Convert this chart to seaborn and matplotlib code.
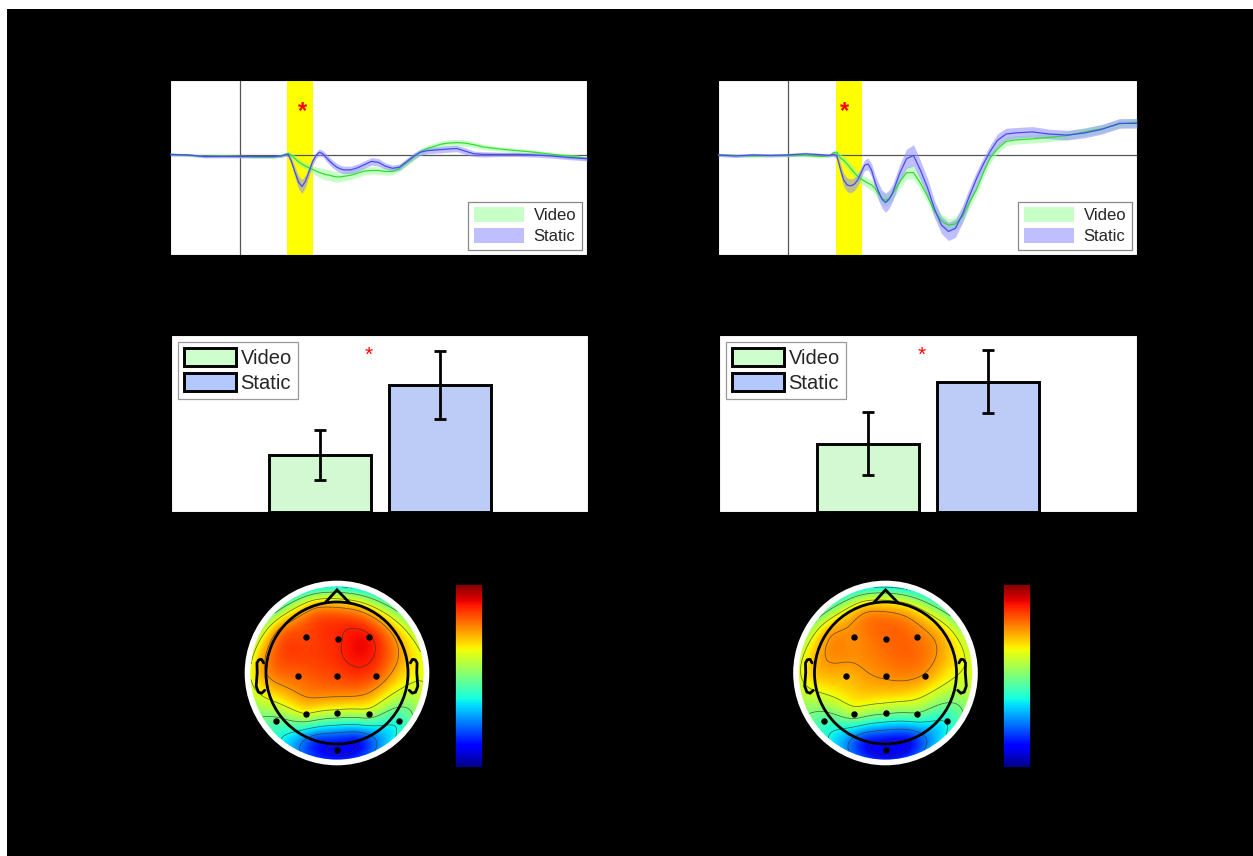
import numpy as np
import pandas as pd
import matplotlib
matplotlib.use("Agg")
import matplotlib.pyplot as plt
from matplotlib.patches import Patch, Circle, Rectangle, Polygon
import seaborn as sns

# ---------------- data ----------------
conditions = ["Video", "Static"]

# ERP time axis (ms)
times = [-200, -150, -100, -50, 0, 50, 100, 120,
         130, 140, 150, 160, 170, 180, 190, 200, 210, 220, 230, 240, 250, 260, 270, 280, 290, 300,
         320, 340, 360, 380, 400, 420, 440, 460, 480, 500, 520, 540, 560, 580, 600,
         625, 650, 675, 700, 750, 800, 850, 900, 950, 1000]

# left site: grand-average amplitude (uV) and SEM
left_static = [0.1, 0.05, -0.1, -0.1, -0.1, -0.1, -0.1, -0.05,
               0.05, 0.1, -0.6, -1.6, -2.5, -2.9, -2.4, -1.5, -0.6, 0.0, 0.3, 0.15, -0.2, -0.55, -0.85, -1.1, -1.25, -1.35,
               -1.35, -1.15, -0.85, -0.55, -0.65, -1.0, -1.2, -1.1, -0.6, -0.1, 0.3, 0.45, 0.5, 0.55, 0.6,
               0.65, 0.4, 0.15, 0.1, 0.1, 0.1, 0.05, -0.05, -0.2, -0.3]
left_video = [0.1, 0.05, -0.1, -0.05, -0.1, -0.15, -0.15, -0.05,
              0.1, 0.2, 0.0, -0.3, -0.6, -0.8, -1.0, -1.15, -1.3, -1.45, -1.6, -1.7, -1.8, -1.85, -1.95, -2.0, -2.0, -1.95,
              -1.85, -1.65, -1.45, -1.4, -1.4, -1.5, -1.5, -1.2, -0.7, -0.2, 0.3, 0.65, 0.85, 1.05, 1.15,
              1.2, 1.15, 1.0, 0.8, 0.6, 0.45, 0.3, 0.1, -0.05, -0.3]
left_static_sem = [0.12] * 8 + [0.15, 0.2, 0.35, 0.5, 0.6, 0.65, 0.55, 0.45, 0.35, 0.3, 0.3, 0.3, 0.35, 0.35, 0.35, 0.35, 0.35, 0.35,
                                0.35, 0.35, 0.35, 0.35, 0.35, 0.3, 0.3, 0.3, 0.3, 0.3, 0.3, 0.3, 0.3, 0.3, 0.3,
                                0.3, 0.3, 0.25, 0.25, 0.2, 0.2, 0.2, 0.2, 0.2, 0.2]
left_video_sem = [0.12] * 8 + [0.15, 0.2, 0.25, 0.3, 0.3, 0.3, 0.3, 0.35, 0.35, 0.4, 0.45, 0.5, 0.5, 0.5, 0.5, 0.5, 0.45, 0.45,
                               0.4, 0.4, 0.35, 0.35, 0.35, 0.35, 0.3, 0.3, 0.3, 0.3, 0.3, 0.3, 0.3, 0.3, 0.3,
                               0.3, 0.3, 0.25, 0.25, 0.2, 0.2, 0.2, 0.2, 0.2, 0.2]

# right site
right_static = [0.05, -0.05, 0.05, 0.0, 0.05, 0.15, 0.05, 0.0,
                0.1, 0.0, -1.2, -2.3, -2.75, -2.85, -2.7, -2.3, -1.6, -0.9, -0.8, -1.4, -2.5, -3.4, -4.1, -4.4, -4.1, -3.5,
                -1.7, -0.3, 0.0, -1.4, -3.0, -5.0, -6.5, -7.1, -6.8, -5.5, -3.8, -2.2, -0.8, 0.4, 1.4,
                2.0, 2.1, 2.15, 2.2, 2.0, 1.9, 2.1, 2.45, 3.0, 3.0]
right_video = [0.05, 0.0, -0.05, 0.0, 0.0, 0.0, -0.1, 0.0,
               0.25, 0.3, -0.2, -0.45, -0.8, -1.2, -1.6, -1.95, -2.2, -2.4, -2.6, -2.75, -3.1, -3.6, -4.0, -4.2, -4.0, -3.6,
               -2.5, -1.6, -1.6, -2.6, -3.8, -5.2, -6.1, -6.5, -6.4, -5.7, -4.4, -3.2, -1.6, -0.2, 0.6,
               1.3, 1.45, 1.5, 1.55, 1.7, 1.85, 2.2, 2.5, 2.95, 3.1]
right_static_sem = [0.15] * 8 + [0.2, 0.3, 0.5, 0.6, 0.65, 0.65, 0.6, 0.55, 0.5, 0.5, 0.55, 0.6, 0.7, 0.8, 0.85, 0.9, 0.85, 0.8,
                                 0.8, 0.9, 1.0, 0.9, 0.85, 0.8, 0.8, 0.85, 0.85, 0.8, 0.75, 0.7, 0.6, 0.6, 0.6,
                                 0.55, 0.5, 0.5, 0.5, 0.45, 0.45, 0.45, 0.45, 0.45, 0.45]
right_video_sem = [0.12] * 8 + [0.2, 0.25, 0.35, 0.4, 0.45, 0.45, 0.45, 0.45, 0.45, 0.45, 0.45, 0.5, 0.5, 0.55, 0.55, 0.55, 0.55, 0.55,
                                0.6, 0.6, 0.6, 0.6, 0.6, 0.6, 0.6, 0.6, 0.6, 0.6, 0.55, 0.5, 0.5, 0.45, 0.45,
                                0.4, 0.4, 0.4, 0.4, 0.4, 0.4, 0.4, 0.4, 0.4, 0.4]

# significant window (ms)
sig_window = [138, 212]

# mean amplitude in the window
left_bar_mean = [1.29, 2.87]
left_bar_err = [0.565, 0.77]
right_bar_mean = [1.54, 2.94]
right_bar_err = [0.71, 0.71]

# scalp topography: electrode labels, positions (unit head radius), values (uV)
electrodes = ["F3", "Fz", "F4", "C3", "Cz", "C4", "P3", "Pz", "P4", "P7", "P8", "Oz",
              "Fp1", "Fp2", "F7", "F8", "T7", "T8", "O1", "O2"]
elec_x = [-0.44, 0.01, 0.45, -0.55, 0.0, 0.55, -0.44, 0.0, 0.45, -0.86, 0.87, 0.0,
          -0.31, 0.31, -0.81, 0.81, -1.0, 1.0, -0.31, 0.31]
elec_y = [0.51, 0.48, 0.51, -0.04, -0.04, -0.04, -0.58, -0.56, -0.58, -0.68, -0.68, -1.08,
          0.95, 0.95, 0.59, 0.59, 0.0, 0.0, -0.95, -0.95]
marked_count = 12  # electrodes of interest shown as dots
left_topo = [2.0, 2.2, 2.3, 1.8, 2.0, 1.9, 0.7, 0.5, 0.35, -0.2, -0.6, -2.3,
             1.3, 1.1, 1.6, 1.3, 1.5, 1.0, -1.9, -2.1]
right_topo = [1.55, 1.8, 1.7, 1.3, 1.55, 1.45, 0.35, 0.1, -0.1, -0.4, -0.7, -2.4,
              1.1, 0.9, 1.3, 1.1, 1.2, 0.8, -2.0, -2.2]
topo_clim = [-3, 3]

# ---------------- style ----------------
sns.set_theme(style="white")
plt.rcParams["font.family"] = ["Liberation Sans", "DejaVu Sans"]

W, H = 1253, 856
fig = plt.figure(figsize=(W / 100, H / 100), dpi=100, facecolor="white")
fig.patches.append(Rectangle((7 / W, 0), 1 - 7 / W, (H - 9) / H, transform=fig.transFigure,
                             facecolor="black", edgecolor="none", zorder=-10))


def px_axes(x0, y0, x1, y1):
    return fig.add_axes([x0 / W, 1 - y1 / H, (x1 - x0) / W, (y1 - y0) / H])


green_line = "#33dd33"
blue_line = "#4a4af0"
green_fill = (0.6, 1.0, 0.6)
blue_fill = (0.55, 0.55, 1.0)
bar_colors = ["#ccffcc", "#b3c8ff"]


def erp_panel(ax, video, video_sem, static, static_sem, star_t):
    t = np.asarray(times, float)
    ax.set_facecolor("white")
    ax.axvspan(sig_window[0], sig_window[1], color="#ffff00", lw=0, zorder=0)
    ax.axhline(0, color="#555555", lw=0.9, zorder=1)
    ax.axvline(0, color="#555555", lw=0.9, zorder=1)
    v, vs = np.asarray(video), np.asarray(video_sem)
    s, ss = np.asarray(static), np.asarray(static_sem)
    ax.fill_between(t, v - vs, v + vs, color=green_fill, alpha=0.55, lw=0, zorder=2)
    ax.fill_between(t, s - ss, s + ss, color=blue_fill, alpha=0.55, lw=0, zorder=3)
    sns.lineplot(x=t, y=v, ax=ax, color=green_line, lw=0.9, zorder=4)
    sns.lineplot(x=t, y=s, ax=ax, color=blue_line, lw=0.9, zorder=5)
    ax.text(star_t, 4.1, "*", color="red", fontsize=17, ha="center", va="center",
            fontweight="bold", zorder=6)
    ax.set_xlim(-200, 1000)
    ax.set_ylim(-9.3, 7.05)
    ax.set_xticks(range(-200, 1001, 200))
    ax.set_yticks([-5, 0, 5])
    ax.tick_params(direction="in", length=4, width=0.8, color="#333333", labelsize=11, labelcolor="black")
    for sp in ax.spines.values():
        sp.set_color("black")
        sp.set_linewidth(0.8)
    handles = [Patch(facecolor=green_fill, alpha=0.55, edgecolor="none", label="Video"),
               Patch(facecolor=blue_fill, alpha=0.55, edgecolor="none", label="Static")]
    leg = ax.legend(handles=handles, loc="lower right", fontsize=12, frameon=True, fancybox=False,
                    framealpha=1, edgecolor="#888888", handlelength=3.0, handleheight=0.95,
                    labelspacing=0.3, handletextpad=0.6, borderpad=0.35, borderaxespad=0.3)
    leg.get_frame().set_linewidth(0.9)


def bar_panel(ax, means, errs, star_x):
    df = pd.DataFrame({"condition": conditions, "amplitude": means})
    ax.set_facecolor("white")
    sns.barplot(data=df, x="condition", y="amplitude", hue="condition", palette=bar_colors,
                order=conditions, hue_order=conditions, dodge=False, width=0.85, errorbar=None,
                edgecolor="black", linewidth=2.1, legend=False, ax=ax)
    ax.errorbar(range(len(conditions)), means, yerr=errs, fmt="none", ecolor="black",
                elinewidth=2.0, capsize=4.5, capthick=2.0, zorder=5)
    ax.text(star_x, 3.55, "*", color="red", fontsize=15, ha="center", va="center")
    ax.set_xlim(0.5 - 1.7375, 0.5 + 1.7375)
    ax.set_ylim(0, 4)
    ax.set_xlabel("")
    ax.set_ylabel("")
    ax.set_xticks([])
    ax.tick_params(axis="y", labelsize=11, labelcolor="black", length=0)
    for sp in ax.spines.values():
        sp.set_color("black")
        sp.set_linewidth(0.8)
    handles = [Patch(facecolor=c, edgecolor="black", linewidth=2.1, label=n)
               for c, n in zip(bar_colors, conditions)]
    leg = ax.legend(handles=handles, loc="upper left", fontsize=14.5, frameon=True, fancybox=False,
                    framealpha=1, edgecolor="#999999", handlelength=2.6, handleheight=1.0,
                    labelspacing=0.25, handletextpad=0.2, borderpad=0.3, borderaxespad=0.35)
    leg.get_frame().set_linewidth(0.9)


def biharmonic(xe, ye, ve, xg, yg):
    xe, ye, ve = map(lambda a: np.asarray(a, float), (xe, ye, ve))
    d = np.hypot(xe[:, None] - xe[None, :], ye[:, None] - ye[None, :])
    with np.errstate(divide="ignore", invalid="ignore"):
        G = np.where(d > 0, d ** 2 * (np.log(d) - 1), 0.0)
    w = np.linalg.solve(G, ve)
    dg = np.hypot(xg[..., None] - xe, yg[..., None] - ye)
    with np.errstate(divide="ignore", invalid="ignore"):
        Gg = np.where(dg > 0, dg ** 2 * (np.log(dg) - 1), 0.0)
    return Gg @ w


def topo_panel(ax, cax, values):
    R = 1.22
    g = np.linspace(-R, R, 241)
    X, Y = np.meshgrid(g, g)
    Z = biharmonic(elec_x, elec_y, values, X, Y)
    ax.set_facecolor("none")
    ax.add_patch(Circle((0, 0), 1.30, facecolor="white", edgecolor="none", zorder=0))
    im = ax.imshow(Z, extent=[-R, R, -R, R], origin="lower", cmap="jet",
                   vmin=topo_clim[0], vmax=topo_clim[1], interpolation="bilinear", zorder=1)
    im.set_clip_path(Circle((0, 0), R, transform=ax.transData))
    Zm = np.ma.masked_where(np.hypot(X, Y) > R, Z)
    cs = ax.contour(X, Y, Zm, levels=np.arange(-2.25, 2.26, 0.75), colors="#303030",
                    linewidths=0.55, alpha=0.7, linestyles="solid", zorder=2)
    cs.set_clip_path(Circle((0, 0), R, transform=ax.transData))
    # head outline, nose and ears
    ax.add_patch(Circle((0, 0), 1.0, facecolor="none", edgecolor="black", lw=2.0, zorder=3))
    ax.add_patch(Polygon([[-0.17, 0.985], [0.0, 1.17], [0.18, 0.985]], closed=False,
                         facecolor="none", edgecolor="black", lw=2.0, zorder=3))
    ear_x = np.array([.497, .510, .518, .5299, .5419, .54, .547, .532, .510, .489]) * 2.08
    ear_y = np.array([.0555, .0775, .0783, .0746, .0555, -.0055, -.0932, -.1313, -.1384, -.1199]) * 2.2 + 0.02
    ax.plot(ear_x, ear_y, color="black", lw=2.0, zorder=3)
    ax.plot(-ear_x, ear_y, color="black", lw=2.0, zorder=3)
    ax.plot(elec_x[:marked_count], elec_y[:marked_count], "o", color="black", markersize=3.6, zorder=4)
    ax.set_xlim(-1.408, 1.408)
    ax.set_ylim(-1.408, 1.408)
    ax.set_aspect("equal")
    ax.axis("off")
    cb = fig.colorbar(im, cax=cax, ticks=[-2, -1, 0, 1, 2])
    cb.outline.set_edgecolor("black")
    cax.tick_params(direction="in", length=3, width=0.6, color="#222222", labelsize=11, labelcolor="black")


ax1 = px_axes(170, 80, 587, 255)
erp_panel(ax1, left_video, left_video_sem, left_static, left_static_sem, 181)
ax2 = px_axes(718, 80, 1137, 255)
erp_panel(ax2, right_video, right_video_sem, right_static, right_static_sem, 163)

ax3 = px_axes(171, 335, 588, 512)
bar_panel(ax3, left_bar_mean, left_bar_err, 0.41)
ax4 = px_axes(719, 335, 1137, 512)
bar_panel(ax4, right_bar_mean, right_bar_err, 0.45)

ax5 = px_axes(237, 573, 437, 773)
cax5 = px_axes(455, 584, 483, 768)
topo_panel(ax5, cax5, left_topo)
ax6 = px_axes(785.5, 573, 985.5, 773)
cax6 = px_axes(1003, 584, 1031, 768)
topo_panel(ax6, cax6, right_topo)

fig.savefig("out.png", dpi=100, facecolor=fig.get_facecolor())
